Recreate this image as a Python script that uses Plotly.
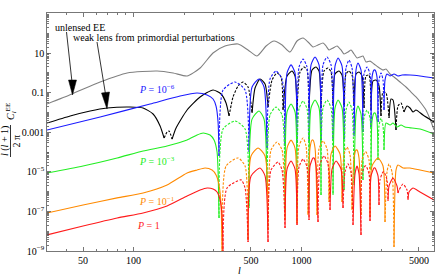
import math
import plotly.graph_objects as go

# ---------------- data ----------------
# multipole l and l(l+1)C_l/2pi ; negative values = negative C_l (drawn dashed)
ell_gray = [30.5, 43, 63.2, 91.5, 138, 172, 208, 249, 297, 350, 419, 480, 543, 615, 686, 766, 854, 940,
            1021, 1093, 1171, 1253, 1343, 1399, 1458, 1540, 1627, 1718, 1790, 1892, 1972, 2054, 2140, 2229,
            2323, 2420, 2557, 2702, 2853, 3056, 3184, 3364, 3553, 3858, 4188, 4486, 4803, 5144, 5508, 5820, 6148]
cl_gray = [0.0266, 0.085, 0.343, 0.98, 1.23, 0.98, 0.69, 1.75, 10, 22.6, 28.5, 14.2, 7.1, 22.6, 40.4, 25.4, 11.2, 40.4,
           57, 36, 20, 25.4, 32, 22.6, 14.2, 17.9, 22.6, 14.2, 8.9, 11.2, 14.2, 8.9, 5.6, 6.3,
           7.1, 3.5, 3.9, 2.8, 1.96, 1.38, 1.56, 0.87, 0.61, 0.343, 0.192, 0.107, 0.060, 0.0299, 0.0132, 0.0046, 0.00129]

ell_black = [30.5, 41.9, 55.1, 69.5, 95.3, 113.9, 130.6, 143.8, 151.9,
             158.2, 162.6, 169.5,
             179, 208.2, 248.8, 297.3, 331.7, 355.2, 370.1,
             391, 418.7, 448.4, 480.3, 507.3,
             528.6, 566.1, 606.3, 631.7,
             667.3, 714.6, 754.9, 775.9,
             819.6, 877.7, 914.6, 940,
             979.5, 1034.7, 1078.1, 1108.1,
             1154.6, 1219.7, 1270.9, 1306.2,
             1361, 1437.8, 1498.1, 1539.8,
             1582.6, 1671.8, 1742, 1790.4,
             1840.2, 1917.4, 1997.9, 2053.5,
             2110.5, 2199.2, 2291.5, 2355.2,
             2420.6, 2522.2, 2592.3,
             2664.4, 2776.3, 2892.8, 2973.2,
             3055.8, 3184.1, 3317.8,
             3410, 3504.8, 3651.9,
             3753.4, 3911, 4075.2,
             4246.2, 4424.5, 4610, 4803, 5287, 6148]
cl_black = [0.0029, 0.0066, 0.0118, 0.0167, 0.0188, 0.0167, 0.0083, 0.00206, 0.00051,
            -0.00102, -0.00115, -0.00045,
            0.00163, 0.0132, 0.060, 0.135, 0.085, 0.0299, 0.0066,
            -0.060, -0.215, -0.343, -0.192, -0.0093,
            0.171, 0.49, 0.272, 0.0188,
            -0.43, -0.98, -0.61, -0.0132,
            0.69, 1.23, 0.69, 0.0132,
            -1.10, -1.96, -1.38, -0.0167,
            1.38, 1.96, 1.23, 0.0167,
            -1.23, -1.75, -1.10, -0.0237,
            0.87, 1.23, 0.77, 0.0237,
            -0.87, -1.23, -0.77, -0.021,
            0.87, 1.10, 0.69, 0.0167,
            -0.69, -0.77, -0.0132,
            0.385, 0.43, 0.215, 0.0066,
            -0.107, -0.095, -0.0052,
            0.0475, 0.0423, 0.00129,
            -0.021, -0.0299, -0.0105,
            0.021, 0.0167, 0.0105, 0.0132, 0.0074, 0.0033]

ell_blue = [30.5, 63.2, 125.4, 189.2, 238.8, 273.8, 297.3, 309.7, 318.3, 322.7,
            340.9, 401.8, 460.9, 486.9,
            507.3, 558.4, 598, 623.1,
            649.3, 704.9, 765.3, 797.4,
            819.6, 865.8, 914.6, 940,
            966.1, 1020.6, 1078.1, 1108.1,
            1138.9, 1203.1, 1270.9, 1306.2,
            1342.5, 1418.2, 1498.1, 1539.8,
            1582.6, 1649, 1742, 1790.4,
            1840.2, 1917.4, 1997.9, 2053.5,
            2110.5, 2169.2, 2260.3, 2323.1,
            2355.2, 2454, 2557, 2592.3,
            2628.1, 2701.2, 2738.5, 2814.6, 2853.4,
            2892.8, 2973.2, 3055.8, 3098,
            3140.8, 3228.1, 3363.6, 3553.2, 3753.4, 3965, 4424.5, 5074, 6148]
cl_blue = [0.00129, 0.0059, 0.0266, 0.0673, 0.095, 0.0757, 0.0475, 0.021, 0.0033, 6.3e-5,
           -0.135, -0.343, -0.135, -1e-4,
           0.192, 0.49, 0.192, 1.59e-4,
           -0.49, -1.23, -0.49, -2.0e-4,
           0.98, 2.5, 0.98, 2.85e-4,
           -1.96, -5.0, -1.96, -3.6e-4,
           2.5, 6.3, 2.5, 4.0e-4,
           -2.5, -6.3, -2.5, -4.0e-4,
           2.2, 5.6, 2.2, 4.5e-4,
           -1.75, -4.4, -1.75, -6.4e-4,
           1.38, 3.1, 1.38, 1.02e-3,
           -0.87, -1.96, -0.87, -1.83e-3,
           0.61, 1.38, 1.38, 0.61, 3.3e-3,
           -0.43, -0.98, -0.43, -0.0132,
           0.43, 0.87, 0.69, 0.87, 0.69, 0.77, 0.77, 0.69, 0.55]

ell_green = [30.5, 50, 79.8, 113.9, 158.2, 208.2, 238.8, 259.2, 285.3, 301.4, 314, 318.3, 322.7,
             340.9, 401.8, 460.9, 486.9,
             507.3, 558.4, 598, 623.1,
             649.3, 704.9, 765.3, 797.4,
             819.6, 865.8, 914.6, 940,
             966.1, 1020.6, 1078.1, 1108.1,
             1138.9, 1203.1, 1270.9, 1306.2,
             1342.5, 1418.2, 1498.1, 1539.8,
             1582.6, 1649, 1742, 1790.4,
             1840.2, 1917.4, 1997.9, 2053.5,
             2110.5, 2169.2, 2260.3, 2323.1,
             2355.2, 2454, 2557, 2592.3,
             2628.1, 2701.2, 2738.5, 2814.6, 2853.4,
             2892.8, 2973.2, 3055.8, 3098,
             3184.1, 3363.6, 3504.8, 3702.3, 3911, 4131.4, 4547.5, 5074, 6148]
cl_green = [8.7e-6, 1.96e-5, 5.0e-5, 1.12e-4, 2.0e-4, 4.0e-4, 7.2e-4, 9.1e-4, 7.2e-4, 4.0e-4, 1e-4, 1.23e-5, 4.65e-8,
            -1.45e-3, -3.7e-3, -1.45e-3, -1.49e-7,
            4.6e-3, 0.0118, 4.6e-3, 1.2e-6,
            -7.4e-3, -0.0188, -7.4e-3, -1.18e-7,
            0.0105, 0.0266, 0.0105, 1.67e-7,
            -0.0149, -0.0377, -0.0149, -3.8e-7,
            0.0167, 0.0423, 0.0167, 6.8e-7,
            -0.0167, -0.0423, -0.0167, -6.8e-7,
            0.0167, 0.0423, 0.0167, 1.2e-6,
            -0.0132, -0.0335, -0.0132, -2.15e-6,
            0.0083, 0.021, 0.0083, 3.9e-6,
            -0.0052, -0.0132, -0.0052, -1.23e-5,
            0.0037, 0.0093, 0.0093, 0.0037, 3.9e-5,
            -0.00206, -0.0052, -0.00206, -1.26e-4,
            0.0029, 0.0023, 0.0029, 0.00183, 0.0023, 0.00183, 0.00163, 0.00145, 0.00081]

ell_orange = [30.5, 50, 79.8, 113.9, 158.2, 208.2, 238.8, 266.4, 293.2, 309.7, 322.7, 331.7, 336.3,
              355.2, 418.7, 460.9, 480.3,
              500.4, 550.8, 606.3, 631.7,
              658.2, 714.6, 765.3, 797.4,
              819.6, 865.8, 914.6, 940,
              966.1, 1020.6, 1063.4, 1093,
              1123.4, 1154.6, 1170.5, 1203.1, 1236.5,
              1270.9, 1342.5, 1418.2, 1457.6,
              1498.1, 1582.6, 1694.9, 1742,
              1790.4, 1865.6, 1943.9, 1997.9,
              2053.5, 2110.5, 2139.7, 2199.2, 2260.3,
              2291.5, 2387.7, 2420.6, 2522.2, 2557,
              2628.1, 2853.4, 3055.8, 3140.8,
              3228.1, 3317.8, 3457.1, 3553.2,
              3651.9, 3753.4, 4019.7, 4424.5, 5074, 6148]
cl_orange = [8.3e-8, 2.1e-7, 4.8e-7, 8.5e-7, 2.15e-6, 8.7e-6, 1.23e-5, 1.56e-5, 1.23e-5, 6.9e-6, 2.15e-6, 2.1e-7, 8e-10,
             -1.96e-5, -5.0e-5, -1.96e-5, -3.6e-9,
             6.3e-5, 1.59e-4, 6.3e-5, 1.15e-8,
             -1.26e-4, -3.2e-4, -1.26e-4, -3.7e-8,
             1.59e-4, 4.0e-4, 1.59e-4, 2.6e-8,
             -2.0e-4, -5.1e-4, -2.0e-4, -6.6e-8,
             1.59e-4, 4.0e-4, 4.0e-4, 1.59e-4, 6.6e-8,
             -1.42e-4, -3.6e-4, -1.42e-4, -3.0e-7,
             7.9e-5, 2.0e-4, 7.9e-5, 3.0e-7,
             -7.1e-5, -1.79e-4, -7.1e-5, -1.18e-7,
             5.0e-5, 1.26e-4, 1.26e-4, 5.0e-5, 6.6e-8,
             -3.9e-5, -1.0e-4, -1.0e-4, -3.9e-5, -5.2e-8,
             1.96e-5, 5.0e-5, 1.96e-5, 2.9e-8,
             -9.8e-6, -2.5e-5, -9.8e-6, -1.59e-9,
             1.23e-5, 2.2e-5, 1.56e-5, 1.56e-5, 1.23e-5, 8.7e-6]

ell_red = [30.5, 50, 79.8, 113.9, 158.2, 208.2, 248.8, 273.8, 297.3, 314, 327.2, 336.3, 340.9,
           360.1, 436.3, 460.9, 480.3,
           500.4, 566.1, 606.3, 631.7,
           658.2, 724.5, 765.3, 797.4,
           819.6, 865.8, 914.6, 940,
           966.1, 1020.6, 1078.1, 1108.1,
           1123.4, 1170.5, 1186.7, 1219.7, 1253.6,
           1288.4, 1361, 1437.8, 1477.7,
           1518.8, 1604.4, 1718.3, 1766,
           1815.1, 1891.3, 1970.7, 2025.5,
           2081.8, 2139.7, 2199.2, 2260.3,
           2291.5, 2387.7, 2420.6, 2522.2, 2557,
           2592.3, 2701.2, 2738.5, 2853.4, 2892.8,
           2932.7, 3055.8, 3098, 3228.1, 3272.6,
           3317.8, 3504.8, 3702.3, 3753.4,
           3805.2, 4019.7, 4246.2, 4304.8,
           4364.2, 4610, 5074, 6148]
cl_red = [6.5e-9, 1.83e-8, 4.65e-8, 8.3e-8, 1.87e-7, 6.0e-7, 1.2e-6, 1.52e-6, 1.35e-6, 9.5e-7, 3.8e-7, 6.6e-8, 5e-10,
          -1.52e-6, -3.9e-6, -1.52e-6, -2.85e-9,
          6.2e-6, 1.56e-5, 6.2e-6, 2.85e-9,
          -1.23e-5, -3.1e-5, -1.23e-5, -1.45e-8,
          1.38e-5, 3.5e-5, 1.38e-5, 2.06e-8,
          -1.75e-5, -4.4e-5, -1.75e-5, -3.7e-8,
          1.96e-5, 5.0e-5, 5.0e-5, 1.96e-5, 2.9e-8,
          -2.5e-5, -6.3e-5, -2.5e-5, -1.18e-7,
          1.38e-5, 3.5e-5, 1.38e-5, 1.49e-7,
          -9.8e-6, -2.5e-5, -9.8e-6, -2.06e-8,
          7.8e-6, 1.96e-5, 7.8e-6, 6.5e-9,
          -7.8e-6, -1.96e-5, -1.96e-5, -7.8e-6, -3.3e-8,
          6.2e-6, 1.56e-5, 1.56e-5, 6.2e-6, 2.1e-7,
          -3.9e-6, -9.8e-6, -9.8e-6, -3.9e-6, -3.35e-7,
          1.92e-6, 4.9e-6, 1.92e-6, 8.5e-7,
          -1.2e-6, -2.4e-6, -1.2e-6, -3.8e-7,
          9.5e-7, 1.52e-6, 9.5e-7, 3.8e-7]

x_tick_vals = [50, 100, 500, 1000, 5000]
x_tick_text = ["50", "100", "500", "1000", "5000"]
x_minor_vals = [40, 60, 70, 80, 90, 200, 300, 400, 600, 700, 800, 900, 2000, 3000, 4000]
y_tick_vals = [1e-9, 1e-7, 1e-5, 1e-3, 1e-1, 10]
y_tick_text = ["10<sup>−9</sup>", "10<sup>−7</sup>", "10<sup>−5</sup>", "0.001", "0.1", "10"]

label_texts = ["<i>P</i> = 10<sup>−6</sup>", "<i>P</i> = 10<sup>−3</sup>",
               "<i>P</i> = 10<sup>−1</sup>", "<i>P</i> = 1"]

# ---------------- styling ----------------
SERIF = "Liberation Serif, Times New Roman, serif"
FRAME = "#555555"
DASH = "2.5px,1.5px"
C_GRAY, C_BLACK, C_BLUE = "#808080", "#000000", "#1a1aff"
C_GREEN, C_ORANGE, C_RED = "#22ee22", "#ff8a00", "#ff1a1a"

fig = go.Figure()


def add_curve(ell, cl, color, width=1.1):
    runs, cur = [], [0]
    for i in range(1, len(cl)):
        if (cl[i] > 0) == (cl[i - 1] > 0):
            cur.append(i)
        else:
            runs.append(cur)
            cur = [i - 1, i]
    runs.append(cur)
    for run in runs:
        positive = cl[run[-1]] > 0
        fig.add_trace(go.Scatter(
            x=[ell[j] for j in run], y=[abs(cl[j]) for j in run], mode="lines",
            line=dict(color=color, width=width, dash="solid" if positive else DASH,
                      shape="spline", smoothing=0.6),
            showlegend=False, hoverinfo="skip"))


add_curve(ell_gray, cl_gray, C_GRAY)
add_curve(ell_black, cl_black, C_BLACK)
add_curve(ell_blue, cl_blue, C_BLUE)
add_curve(ell_green, cl_green, C_GREEN)
add_curve(ell_orange, cl_orange, C_ORANGE)
add_curve(ell_red, cl_red, C_RED)

axis_common = dict(ticks="inside", ticklen=4, tickwidth=0.8, tickcolor=FRAME,
                   showline=True, linecolor=FRAME, linewidth=0.8, mirror="allticks",
                   showgrid=False, zeroline=False, automargin=False,
                   tickfont=dict(family=SERIF, size=10, color="black"))

y_minor = [m * 10.0 ** e for e in range(-9, 3) for m in (2, 3, 4, 5, 6, 7, 8, 9)]
y_minor += [10.0 ** e for e in (-8, -6, -4, -2, 0, 2)]

fig.update_layout(
    width=436, height=278,
    margin=dict(l=47, r=2, t=13, b=27, pad=0),
    paper_bgcolor="white", plot_bgcolor="white",
    font=dict(family=SERIF, size=10, color="black"),
    xaxis=dict(type="log", range=[math.log10(30.5), math.log10(6148)],
               tickmode="array", tickvals=x_tick_vals, ticktext=x_tick_text,
               minor=dict(tickmode="array", tickvals=x_minor_vals, ticks="inside",
                          ticklen=2, tickcolor=FRAME, showgrid=False),
               **axis_common),
    yaxis=dict(type="log", range=[-9, 3.02],
               tickmode="array", tickvals=y_tick_vals, ticktext=y_tick_text,
               minor=dict(tickmode="array", tickvals=y_minor,
                          ticks="inside", ticklen=2, tickcolor=FRAME, showgrid=False),
               **axis_common),
)


def px(xp):
    return (xp - 47) / 387.0


def py(yp):
    return (251 - yp) / 238.0


ann = []
ann.append(dict(text="unlensed EE", x=px(80), y=py(27)))
ann.append(dict(text="weak lens from primordial perturbations", x=px(153.5), y=py(38)))
ann.append(dict(text=label_texts[0], x=px(157), y=py(89), font=dict(color=C_BLUE, size=10, family=SERIF)))
ann.append(dict(text=label_texts[1], x=px(157), y=py(161), font=dict(color=C_GREEN, size=10, family=SERIF)))
ann.append(dict(text=label_texts[2], x=px(157), y=py(201), font=dict(color=C_ORANGE, size=10, family=SERIF)))
ann.append(dict(text=label_texts[3], x=px(148), y=py(225), font=dict(color=C_RED, size=10, family=SERIF)))
# axis titles
ann.append(dict(text="<i>l</i>", x=px(239), y=py(270)))
ann.append(dict(text="<i>l</i> (<i>l</i> + 1)", x=px(5), y=py(141), textangle=-90))
ann.append(dict(text="2 π", x=px(15.5), y=py(141), textangle=-90))
ann.append(dict(text="<i>C</i><sub><i>l</i></sub><sup>EE</sup>", x=px(11), y=py(112), textangle=-90))

for a in ann:
    a.setdefault("font", dict(family=SERIF, size=10, color="black"))
    a.update(xref="paper", yref="paper", showarrow=False, xanchor="center", yanchor="middle")
fig.update_layout(annotations=ann)

shapes = [
    # fraction bar of the y title
    dict(type="line", xref="paper", yref="paper", x0=px(10.5), x1=px(10.5), y0=py(125), y1=py(157),
         line=dict(color="black", width=0.8)),
    # arrow 1
    dict(type="line", xref="paper", yref="paper", x0=px(66.5), y0=py(32), x1=px(72), y1=py(82),
         line=dict(color="black", width=0.8)),
    dict(type="path", xref="paper", yref="paper",
         path=f"M {px(68.5)} {py(80)} L {px(76.5)} {py(80)} L {px(72.5)} {py(95)} Z",
         fillcolor="black", line=dict(color="black", width=0.5)),
    # arrow 2
    dict(type="line", xref="paper", yref="paper", x0=px(97), y0=py(42), x1=px(105.5), y1=py(94),
         line=dict(color="black", width=0.8)),
    dict(type="path", xref="paper", yref="paper",
         path=f"M {px(101.5)} {py(93)} L {px(109.5)} {py(92)} L {px(107)} {py(109)} Z",
         fillcolor="black", line=dict(color="black", width=0.5)),
]
fig.update_layout(shapes=shapes)

fig.write_html("out.html", config={"displayModeBar": False, "staticPlot": True},
               post_script="document.body.style.margin='0';document.body.style.overflow='hidden';")
